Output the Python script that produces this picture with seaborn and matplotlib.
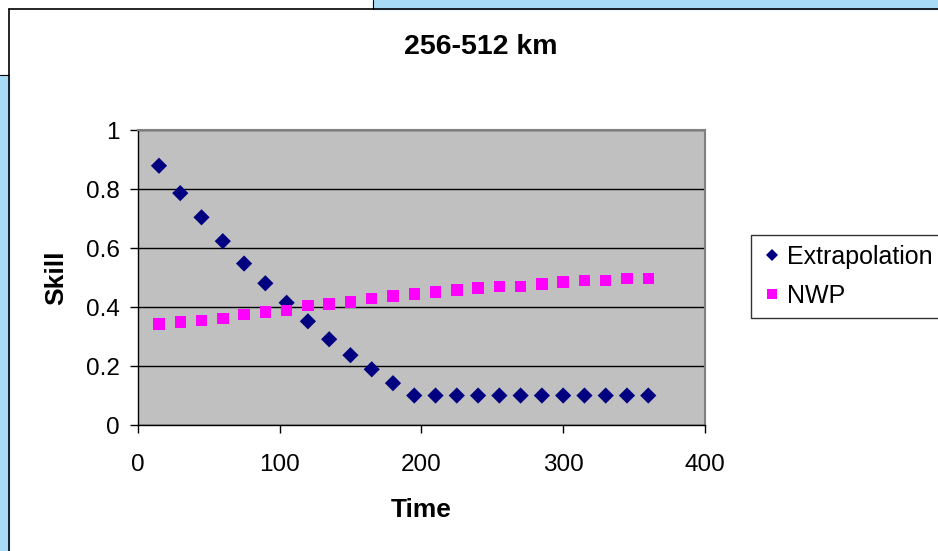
import matplotlib
matplotlib.use("Agg")
import matplotlib.pyplot as plt
import matplotlib.patches as mpatches
import pandas as pd
import seaborn as sns

# data
time = [15, 30, 45, 60, 75, 90, 105, 120, 135, 150, 165, 180,
        195, 210, 225, 240, 255, 270, 285, 300, 315, 330, 345, 360]
extrapolation = [0.88, 0.787, 0.705, 0.624, 0.548, 0.481, 0.415, 0.352,
                 0.291, 0.237, 0.189, 0.142, 0.10, 0.10, 0.10, 0.10,
                 0.10, 0.10, 0.10, 0.10, 0.10, 0.10, 0.10, 0.10]
nwp = [0.343, 0.349, 0.355, 0.362, 0.376, 0.383, 0.389, 0.405,
       0.411, 0.417, 0.430, 0.438, 0.445, 0.452, 0.458, 0.465,
       0.471, 0.471, 0.478, 0.485, 0.491, 0.491, 0.498, 0.498]
series_names = ["Extrapolation", "NWP"]

df = pd.DataFrame({
    "Time": time * 2,
    "Skill": extrapolation + nwp,
    "Series": [series_names[0]] * len(time) + [series_names[1]] * len(time),
})

sns.set_style("white")
plt.rcParams["font.family"] = ["Liberation Sans", "DejaVu Sans"]
plt.rcParams.update({"text.color": "black", "axes.labelcolor": "black",
                     "xtick.color": "black", "ytick.color": "black"})

fig = plt.figure(figsize=(9.38, 5.51), dpi=100)
W, H = 938, 551

# slide background showing around the chart frame
blue = "#a8dcf6"
fig.patches.append(mpatches.Rectangle((373 / W, 1 - 9 / H), 1 - 373 / W, 9 / H,
                                      transform=fig.transFigure, color=blue, zorder=0))
fig.patches.append(mpatches.Rectangle((0, 0), 9 / W, 1 - 75 / H,
                                      transform=fig.transFigure, color=blue, zorder=0))
fig.add_artist(plt.Line2D([9 / W, 1], [1 - 9 / H, 1 - 9 / H], color="black", lw=1.2,
                          transform=fig.transFigure))
fig.add_artist(plt.Line2D([9 / W, 9 / W], [0, 1 - 9 / H], color="black", lw=1.2,
                          transform=fig.transFigure))
fig.add_artist(plt.Line2D([0, 9 / W], [1 - 75 / H, 1 - 75 / H], color="black", lw=0.8,
                          transform=fig.transFigure))
fig.add_artist(plt.Line2D([373 / W, 373 / W], [1 - 9 / H, 1], color="black", lw=0.8,
                          transform=fig.transFigure))

ax = fig.add_axes([137.7 / W, 1 - 425 / H, (705 - 137.7) / W, (425 - 130.4) / H])
ax.set_facecolor("#c0c0c0")

sns.scatterplot(data=df, x="Time", y="Skill", hue="Series", style="Series",
                markers={"Extrapolation": "D", "NWP": "s"},
                palette={"Extrapolation": "#000080", "NWP": "#ff00ff"},
                s=68, linewidth=0, ax=ax, zorder=3)

ax.set_xlim(0, 400)
ax.set_ylim(0, 1)
ax.set_xticks([0, 100, 200, 300, 400])
ax.set_yticks([0, 0.2, 0.4, 0.6, 0.8, 1])
ax.set_yticklabels(["0", "0.2", "0.4", "0.6", "0.8", "1"])
ax.grid(axis="y", color="black", lw=1)
ax.set_axisbelow(True)
ax.tick_params(axis="both", direction="out", length=6, width=1, color="black",
               labelcolor="black", labelsize=17.5, left=True, bottom=True)
ax.tick_params(axis="y", pad=7)
ax.tick_params(axis="x", pad=15)
for side in ["left", "bottom"]:
    ax.spines[side].set_color("black")
    ax.spines[side].set_linewidth(1)
for side in ["top", "right"]:
    ax.spines[side].set_color("#808080")
    ax.spines[side].set_linewidth(1.5)

ax.set_xlabel("Time", fontsize=19, fontweight="bold", color="black")
ax.set_ylabel("Skill", fontsize=19, fontweight="bold", color="black")
ax.xaxis.label.set_va("center")
ax.yaxis.label.set_va("center")
ax.xaxis.set_label_coords((420.7 - 137.7) / 567.3, (425 - 510) / 294.6)
ax.yaxis.set_label_coords((56 - 137.7) / 567.3, (425 - 278) / 294.6)
fig.text(481 / W, 1 - 47 / H, "256-512 km", fontsize=20.5, fontweight="bold",
         ha="center", va="center", color="black")

handles, labels = ax.get_legend_handles_labels()
ax.legend_.remove()
leg = fig.legend(handles, labels, loc="upper left",
                 bbox_to_anchor=(751 / W, 1 - 235 / H), fontsize=18,
                 frameon=True, fancybox=False, edgecolor="black",
                 handletextpad=0.15, handlelength=0.9, borderpad=0.4,
                 labelspacing=0.6, markerscale=0.8, borderaxespad=0)
leg.get_frame().set_linewidth(1)
for t in leg.get_texts():
    t.set_color("black")

fig.savefig("out.png", dpi=100)
